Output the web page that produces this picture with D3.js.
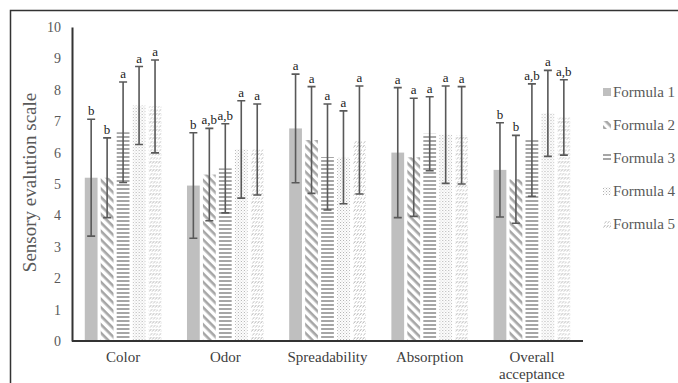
<!DOCTYPE html>
<meta charset="utf-8">
<style>
body { margin: 0; background: #fff; }
</style>
<svg width="678" height="383"></svg>
<script src="https://d3js.org/d3.v7.min.js"></script>
<script>

var svg = d3.select("svg"),
    width = +svg.attr("width"),
    height = +svg.attr("height");

var serif = "'Liberation Serif', 'Times New Roman', serif";

// data
var categories = ["Color", "Odor", "Spreadability", "Absorption", "Overall acceptance"];
var formulas = ["Formula 1", "Formula 2", "Formula 3", "Formula 4", "Formula 5"];
var yTicks = [0, 1, 2, 3, 4, 5, 6, 7, 8, 9, 10];

// means, one array per formula, in category order
var f1Mean = [5.2, 4.95, 6.77, 6.0, 5.45];
var f2Mean = [5.2, 5.3, 6.4, 5.85, 5.15];
var f3Mean = [6.65, 5.5, 5.86, 6.6, 6.4];
var f4Mean = [7.5, 6.1, 5.85, 6.57, 7.25];
var f5Mean = [7.47, 6.1, 6.4, 6.55, 7.12];

// standard deviations
var f1Sd = [1.86, 1.68, 1.73, 2.07, 1.5];
var f2Sd = [1.27, 1.47, 1.7, 1.88, 1.4];
var f3Sd = [1.6, 1.42, 1.69, 1.18, 1.79];
var f4Sd = [1.24, 1.55, 1.48, 1.55, 1.37];
var f5Sd = [1.48, 1.45, 1.72, 1.55, 1.2];

// significance letters
var f1Sig = ["b", "b", "a", "a", "b"];
var f2Sig = ["b", "a,b", "a", "a", "b"];
var f3Sig = ["a", "a,b", "a", "a", "a,b"];
var f4Sig = ["a", "a", "a", "a", "a"];
var f5Sig = ["a", "a", "a", "a", "a,b"];

var means = [f1Mean, f2Mean, f3Mean, f4Mean, f5Mean],
    sds = [f1Sd, f2Sd, f3Sd, f4Sd, f5Sd],
    sigs = [f1Sig, f2Sig, f3Sig, f4Sig, f5Sig];

var rows = [];
categories.forEach(function(c, ci) {
  formulas.forEach(function(f, fi) {
    rows.push({cat: c, f: f, fi: fi, mean: means[fi][ci], sd: sds[fi][ci], sig: sigs[fi][ci]});
  });
});

// outer frame (only left/top visible in the picture)
svg.append("rect")
    .attr("x", 10.5).attr("y", 10.5)
    .attr("width", 700).attr("height", 400)
    .attr("fill", "none")
    .attr("stroke", "#333")
    .attr("stroke-width", 1.5);

// patterns
var defs = svg.append("defs");
var pcol = "#a6a6a6";

var p2 = defs.append("pattern").attr("id", "pat2")
    .attr("patternUnits", "userSpaceOnUse").attr("width", 6).attr("height", 6)
    .attr("patternTransform", "rotate(45)");
p2.append("rect").attr("x", 0).attr("y", 0).attr("width", 6).attr("height", 2.6).attr("fill", pcol);

var p3 = defs.append("pattern").attr("id", "pat3")
    .attr("patternUnits", "userSpaceOnUse").attr("width", 4).attr("height", 4);
p3.append("rect").attr("x", 0).attr("y", 0).attr("width", 4).attr("height", 2).attr("fill", pcol);

var p4 = defs.append("pattern").attr("id", "pat4")
    .attr("patternUnits", "userSpaceOnUse").attr("width", 3).attr("height", 3);
p4.append("rect").attr("x", 0).attr("y", 0).attr("width", 1).attr("height", 1).attr("fill", "#b0b0b0");
p4.append("rect").attr("x", 1.5).attr("y", 1.5).attr("width", 1).attr("height", 1).attr("fill", "#c8c8c8");

var p5 = defs.append("pattern").attr("id", "pat5")
    .attr("patternUnits", "userSpaceOnUse").attr("width", 9).attr("height", 8);
[0, 3, 6].forEach(function(dx) {
  p5.append("line").attr("x1", dx + 0.5).attr("y1", 3.5).attr("x2", dx + 2.5).attr("y2", 1)
    .attr("stroke", "#aaaaaa").attr("stroke-width", 0.9);
});
[1.5, 4.5, 7.5].forEach(function(dx) {
  p5.append("line").attr("x1", dx).attr("y1", 7.5).attr("x2", dx + 2).attr("y2", 5)
    .attr("stroke", "#bbbbbb").attr("stroke-width", 0.9);
});

var fills = ["#bfbfbf", "url(#pat2)", "url(#pat3)", "url(#pat4)", "url(#pat5)"];

// scales
var x0 = d3.scaleBand()
    .domain(categories)
    .range([72, 583])
    .paddingInner(0.25)
    .paddingOuter(0.125);

var x1 = d3.scaleBand()
    .domain(formulas)
    .range([0, x0.bandwidth()])
    .paddingInner(0.2);

var y = d3.scaleLinear()
    .domain([0, 10])
    .range([341, 27]);

// y axis
var yAxis = svg.append("g")
    .attr("transform", "translate(72,0)")
    .call(d3.axisLeft(y).tickValues(yTicks).tickSize(0).tickPadding(11));
yAxis.attr("font-family", serif).attr("font-size", 14);
yAxis.selectAll(".tick text").attr("fill", "#595959");
yAxis.select(".domain").attr("stroke", "#333").attr("stroke-width", 2);

svg.append("text")
    .attr("transform", "translate(29," + y(5.05) + ") rotate(-90)")
    .attr("text-anchor", "middle")
    .attr("dy", "0.35em")
    .attr("fill", "#595959")
    .attr("font-family", serif)
    .attr("font-size", 19)
    .text("Sensory evalution scale");

// bars
var groups = svg.append("g").selectAll("g")
  .data(rows)
  .enter().append("g")
    .attr("transform", function(d) { return "translate(" + (x0(d.cat) + x1(d.f)) + ",0)"; });

groups.append("rect")
    .attr("x", 0)
    .attr("y", function(d) { return y(d.mean); })
    .attr("width", x1.bandwidth())
    .attr("height", function(d) { return y(0) - y(d.mean); })
    .attr("fill", function(d) { return fills[d.fi]; });

// error bars
var cx = x1.bandwidth() / 2, cap = 4;
groups.append("path")
    .attr("d", function(d) {
      var t = y(d.mean + d.sd), b = y(d.mean - d.sd);
      return "M" + cx + "," + t + "V" + b +
             "M" + (cx - cap) + "," + t + "H" + (cx + cap) +
             "M" + (cx - cap) + "," + b + "H" + (cx + cap);
    })
    .attr("fill", "none")
    .attr("stroke", "#595959")
    .attr("stroke-width", 1.6);

groups.append("text")
    .attr("x", cx)
    .attr("y", function(d) { return y(d.mean + d.sd) - 4; })
    .attr("text-anchor", "middle")
    .attr("font-family", serif)
    .attr("font-size", 13)
    .attr("fill", "#1a1a1a")
    .text(function(d) { return d.sig; });

// x axis
svg.append("line")
    .attr("x1", 72).attr("x2", 583)
    .attr("y1", y(0)).attr("y2", y(0))
    .attr("stroke", "#333").attr("stroke-width", 2);

var catLabels = svg.append("g").selectAll("text")
  .data(categories)
  .enter().append("text")
    .attr("text-anchor", "middle")
    .attr("font-family", serif)
    .attr("font-size", 15)
    .attr("fill", "#404040")
    .attr("x", function(d) { return x0(d) + x0.bandwidth() / 2; })
    .attr("y", 362);

catLabels.each(function(d) {
  var words = d === "Overall acceptance" ? ["Overall", "acceptance"] : [d];
  var t = d3.select(this);
  words.forEach(function(w, i) {
    t.append("tspan")
      .attr("x", x0(d) + x0.bandwidth() / 2)
      .attr("dy", i ? 17 : 0)
      .text(w);
  });
});

// legend
var legend = svg.append("g")
  .selectAll("g")
  .data(formulas)
  .enter().append("g")
    .attr("transform", function(d, i) { return "translate(603," + (92 + i * 33) + ")"; });

legend.append("rect")
    .attr("x", 0).attr("y", -4)
    .attr("width", 8).attr("height", 8)
    .attr("fill", function(d, i) { return fills[i]; });

legend.append("text")
    .attr("x", 10)
    .attr("dy", "0.35em")
    .attr("font-family", serif)
    .attr("font-size", 15)
    .attr("fill", "#595959")
    .text(function(d) { return d; });

</script>
